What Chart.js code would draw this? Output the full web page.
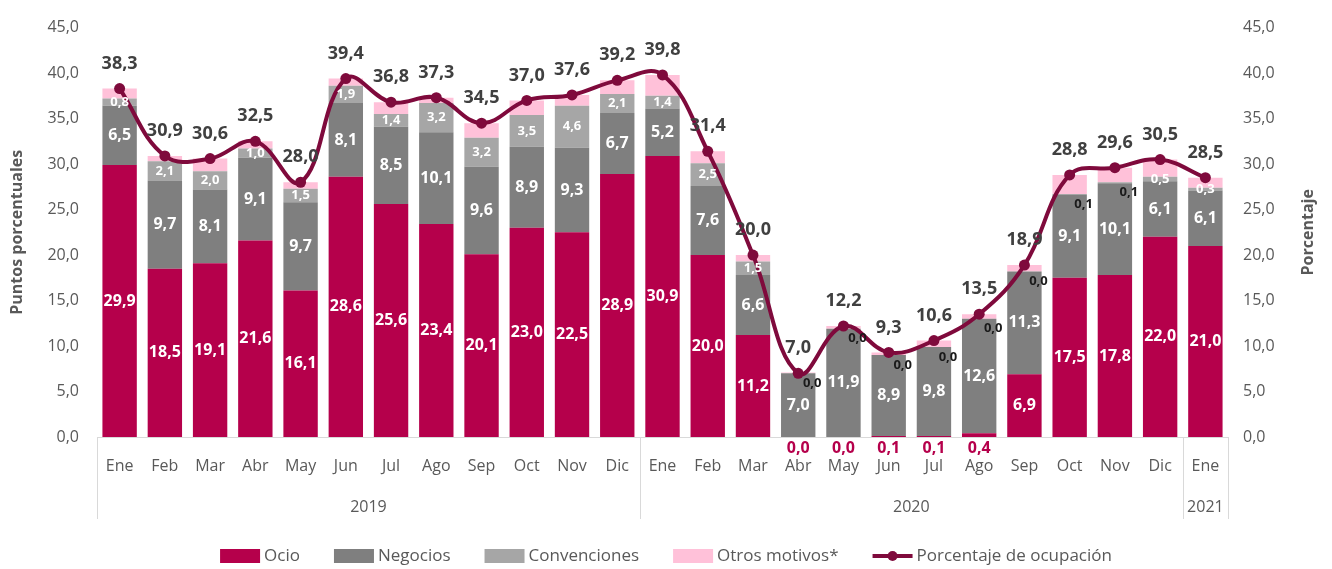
<!DOCTYPE html><html><head>
<title>Ocupación por motivo</title>
<meta charset="utf-8">
<style>html,body{margin:0;padding:0;background:#fff}</style>
</head>
<body>
<canvas id="chart" width="1332" height="569"></canvas>
<script src="https://cdn.jsdelivr.net/npm/chart.js"></script>
<script>
// data
const months = ['Ene','Feb','Mar','Abr','May','Jun','Jul','Ago','Sep','Oct','Nov','Dic',
                'Ene','Feb','Mar','Abr','May','Jun','Jul','Ago','Sep','Oct','Nov','Dic',
                'Ene'];
const years = ['2019', '2020', '2021'];
const monthsPerYear = [12, 12, 1];

const ocio         = [29.9,18.5,19.1,21.6,16.1,28.6,25.6,23.4,20.1,23.0,22.5,28.9,
                      30.9,20.0,11.2,0.0,0.0,0.1,0.1,0.4,6.9,17.5,17.8,22.0,21.0];
const negocios     = [6.5,9.7,8.1,9.1,9.7,8.1,8.5,10.1,9.6,8.9,9.3,6.7,
                      5.2,7.6,6.6,7.0,11.9,8.9,9.8,12.6,11.3,9.1,10.1,6.1,6.1];
const convenciones = [0.8,2.1,2.0,1.0,1.5,1.9,1.4,3.2,3.2,3.5,4.6,2.1,
                      1.4,2.5,1.5,0.0,0.0,0.0,0.0,0.0,0.0,0.1,0.1,0.5,0.3];
const otros        = [1.1,0.6,1.4,0.8,0.7,0.8,1.3,0.6,1.6,1.6,1.2,1.5,
                      2.3,1.3,0.7,0.1,0.3,0.3,0.7,0.5,0.7,2.1,1.6,1.9,1.1];
const ocupacion    = [38.3,30.9,30.6,32.5,28.0,39.4,36.8,37.3,34.5,37.0,37.6,39.2,
                      39.8,31.4,20.0,7.0,12.2,9.3,10.6,13.5,18.9,28.8,29.6,30.5,28.5];

const C_OCIO = '#B5004B', C_NEG = '#7F7F7F', C_CONV = '#A6A6A6', C_OTROS = '#FFC1D9', C_LINE = '#7F0A3C';
const FONT = '"Open Sans", "Noto Sans", sans-serif';
const fmt = v => v.toFixed(1).replace('.', ',');

// value labels on bars and line
const labelPlugin = {
  id: 'valueLabels',
  afterDatasetsDraw(chart) {
    const ctx = chart.ctx;
    const base = chart.scales.y.getPixelForValue(0);
    ctx.save();
    ctx.textAlign = 'center';
    ctx.textBaseline = 'middle';

    chart.getDatasetMeta(0).data.forEach((bar, i) => {
      const v = ocio[i];
      ctx.font = 'bold 16px ' + FONT;
      if (v < 1) {
        ctx.fillStyle = C_OCIO;
        ctx.fillText(fmt(v), bar.x, base + 11);
      } else {
        ctx.fillStyle = '#fff';
        ctx.fillText(fmt(v), bar.x, (bar.y + bar.base) / 2);
      }
    });
    chart.getDatasetMeta(1).data.forEach((bar, i) => {
      ctx.font = 'bold 16px ' + FONT;
      ctx.fillStyle = '#fff';
      ctx.fillText(fmt(negocios[i]), bar.x, (bar.y + bar.base) / 2);
    });
    chart.getDatasetMeta(2).data.forEach((bar, i) => {
      const v = convenciones[i];
      ctx.font = 'bold 13px ' + FONT;
      if (v < 0.2) {
        ctx.fillStyle = '#1a1a1a';
        ctx.fillText(fmt(v), bar.x + 14, bar.y + 10);
      } else {
        ctx.fillStyle = '#fff';
        ctx.fillText(fmt(v), bar.x, (bar.y + bar.base) / 2);
      }
    });
    chart.getDatasetMeta(4).data.forEach((pt, i) => {
      ctx.font = 'bold 18px ' + FONT;
      ctx.fillStyle = '#404040';
      ctx.fillText(fmt(ocupacion[i]), pt.x, pt.y - 25);
    });
    ctx.restore();
  }
};

// year row, separators, right title and legend
const extrasPlugin = {
  id: 'extras',
  afterDraw(chart) {
    const ctx = chart.ctx;
    const x = chart.scales.x;
    const area = chart.chartArea;
    const half = (x.getPixelForValue(1) - x.getPixelForValue(0)) / 2;
    ctx.save();
    ctx.strokeStyle = '#d9d9d9';
    ctx.lineWidth = 1;
    ctx.fillStyle = '#595959';
    ctx.font = '16px ' + FONT;
    ctx.textAlign = 'center';
    ctx.textBaseline = 'middle';
    let start = 0;
    const edges = [x.getPixelForValue(0) - half];
    years.forEach((yr, k) => {
      const end = start + monthsPerYear[k] - 1;
      const l = x.getPixelForValue(start) - half;
      const r = x.getPixelForValue(end) + half;
      edges.push(r);
      ctx.fillText(yr, (l + r) / 2, area.bottom + 70);
      start = end + 1;
    });
    edges.forEach(e => {
      const ex = Math.round(e) + 0.5;
      ctx.beginPath();
      ctx.moveTo(ex, area.bottom);
      ctx.lineTo(ex, area.bottom + 82);
      ctx.stroke();
    });

    // right axis title, reads bottom to top like the left one
    ctx.save();
    ctx.translate(1308, (area.top + area.bottom) / 2);
    ctx.rotate(-Math.PI / 2);
    ctx.font = 'bold 16px ' + FONT;
    ctx.fillText('Porcentaje', 0, 0);
    ctx.restore();

    // legend
    const items = [
      {text: 'Ocio', color: C_OCIO},
      {text: 'Negocios', color: C_NEG},
      {text: 'Convenciones', color: C_CONV},
      {text: 'Otros motivos*', color: C_OTROS},
      {text: 'Porcentaje de ocupación', color: C_LINE, line: true}
    ];
    ctx.font = '17px ' + FONT;
    const widths = items.map(it => 44 + ctx.measureText(it.text).width);
    const total = widths.reduce((a, b) => a + b, 0) + 34 * (items.length - 1);
    let lx = (chart.width - total) / 2;
    const ly = 556;
    ctx.textAlign = 'left';
    items.forEach((it, k) => {
      if (it.line) {
        ctx.strokeStyle = it.color;
        ctx.lineWidth = 4;
        ctx.beginPath();
        ctx.moveTo(lx, ly);
        ctx.lineTo(lx + 40, ly);
        ctx.stroke();
        ctx.fillStyle = it.color;
        ctx.beginPath();
        ctx.arc(lx + 20, ly, 5, 0, Math.PI * 2);
        ctx.fill();
      } else {
        ctx.fillStyle = it.color;
        ctx.fillRect(lx, ly - 7, 40, 14);
      }
      ctx.fillStyle = '#595959';
      ctx.fillText(it.text, lx + 44, ly);
      lx += widths[k] + 34;
    });
    ctx.restore();
  }
};

const barSet = (label, data, color) => ({
  type: 'bar', label, data, backgroundColor: color, borderWidth: 0,
  yAxisID: 'y', stack: 's', order: 1,
  barPercentage: 0.76, categoryPercentage: 1
});

const tickFont = {family: FONT, size: 16};

new Chart(document.getElementById('chart'), {
  data: {
    labels: months,
    datasets: [
      barSet('Ocio', ocio, C_OCIO),
      barSet('Negocios', negocios, C_NEG),
      barSet('Convenciones', convenciones, C_CONV),
      barSet('Otros motivos*', otros, C_OTROS),
      {
        type: 'line', label: 'Porcentaje de ocupación', data: ocupacion,
        yAxisID: 'y2', order: 0,
        borderColor: C_LINE, backgroundColor: C_LINE, borderWidth: 4,
        pointRadius: 5.5, pointBackgroundColor: C_LINE, pointBorderWidth: 0,
        tension: 0.4, fill: false
      }
    ]
  },
  options: {
    responsive: false,
    animation: false,
    devicePixelRatio: 1,
    layout: {padding: {top: 22, left: 0, right: 0, bottom: 0}},
    plugins: {legend: {display: false}, tooltip: {enabled: false}},
    scales: {
      x: {
        stacked: true,
        offset: true,
        grid: {display: false, drawTicks: false},
        border: {display: true, color: '#d9d9d9', width: 1},
        ticks: {color: '#595959', font: tickFont, padding: 20, maxRotation: 0, autoSkip: false},
        afterFit(s) { s.height = 132; }
      },
      y: {
        stacked: true,
        position: 'left',
        min: 0, max: 45,
        grid: {display: false, drawTicks: false},
        border: {display: false},
        ticks: {stepSize: 5, color: '#595959', font: tickFont, padding: 18, callback: v => fmt(v)},
        title: {display: true, text: 'Puntos porcentuales', color: '#595959',
                font: {family: FONT, size: 16, weight: 'bold'}, padding: {top: 8, bottom: 0}},
        afterFit(s) { s.width = 97; }
      },
      y2: {
        stacked: false,
        position: 'right',
        min: 0, max: 45,
        grid: {display: false, drawTicks: false},
        border: {display: false},
        ticks: {stepSize: 5, color: '#595959', font: tickFont, padding: 15, callback: v => fmt(v)},
        afterFit(s) { s.width = 104; }
      }
    }
  },
  plugins: [labelPlugin, extrasPlugin]
});
</script>
</body></html>
